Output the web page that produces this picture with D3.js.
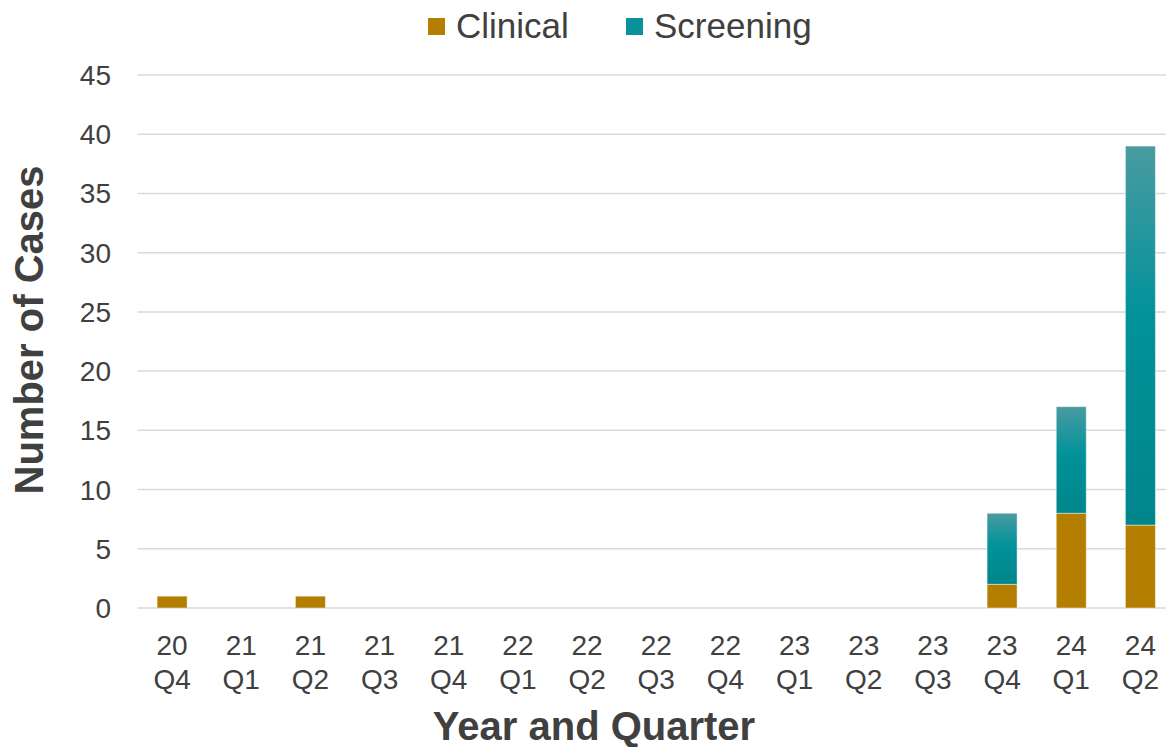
<!DOCTYPE html>
<meta charset="utf-8">
<style>
  body { margin: 0; background: #fff; }
  text { font-family: "Liberation Sans", Arial, sans-serif; fill: #404040; }
  .tick-label { font-size: 28px; }
  .axis-title { font-size: 40px; font-weight: bold; }
  .legend-text { font-size: 35px; }
</style>
<body>
<script src="https://cdn.jsdelivr.net/npm/d3@7"></script>
<script>

var quarters = ["20 Q4", "21 Q1", "21 Q2", "21 Q3", "21 Q4", "22 Q1", "22 Q2", "22 Q3",
                "22 Q4", "23 Q1", "23 Q2", "23 Q3", "23 Q4", "24 Q1", "24 Q2"];
var clinical = [1, 0, 1, 0, 0, 0, 0, 0, 0, 0, 0, 0, 2, 8, 7];
var screening = [0, 0, 0, 0, 0, 0, 0, 0, 0, 0, 0, 0, 6, 9, 32];
var yTicks = [0, 5, 10, 15, 20, 25, 30, 35, 40, 45];
var seriesNames = ["Clinical", "Screening"];

var width = 1166, height = 747;
var plotLeft = 137.5, plotRight = 1175, plotTop = 75, plotBottom = 608;

var svg = d3.select("body").append("svg")
  .attr("width", width)
  .attr("height", height);

// gradient for screening bars (lighter at the top)
var defs = svg.append("defs");
var grad = defs.append("linearGradient")
  .attr("id", "scrGrad")
  .attr("x1", 0).attr("y1", 0).attr("x2", 0).attr("y2", 1);
grad.append("stop").attr("offset", "0%").attr("stop-color", "#4a9ba1");
grad.append("stop").attr("offset", "45%").attr("stop-color", "#01929a");
grad.append("stop").attr("offset", "100%").attr("stop-color", "#00858b");

var x = d3.scaleBand().domain(quarters).range([plotLeft, plotRight]);
var y = d3.scaleLinear().domain([0, 45]).range([plotBottom, plotTop]);
var barW = 30;

// gridlines
svg.append("g").selectAll("line")
  .data(yTicks)
  .enter().append("line")
    .attr("x1", plotLeft).attr("x2", plotRight)
    .attr("y1", function(d) { return y(d); })
    .attr("y2", function(d) { return y(d); })
    .attr("stroke", "#d9d9d9")
    .attr("stroke-width", 1.5);

// y tick labels
svg.append("g").selectAll("text")
  .data(yTicks)
  .enter().append("text")
    .attr("class", "tick-label")
    .attr("x", 111)
    .attr("y", function(d) { return y(d) + 10; })
    .attr("text-anchor", "end")
    .text(function(d) { return d; });

// stacked bars
var stackData = quarters.map(function(q, i) {
  return { q: q, Clinical: clinical[i], Screening: screening[i] };
});
var stacked = d3.stack().keys(seriesNames)(stackData);
var colors = { Clinical: "#b47f00", Screening: "url(#scrGrad)" };

stacked.forEach(function(layer) {
  svg.append("g").selectAll("rect")
    .data(layer.filter(function(d) { return d[1] - d[0] > 0; }))
    .enter().append("rect")
      .attr("x", function(d) { return x(d.data.q) + x.bandwidth() / 2 - barW / 2; })
      .attr("y", function(d) { return y(d[1]); })
      .attr("width", barW)
      .attr("height", function(d) { return y(d[0]) - y(d[1]); })
      .attr("fill", colors[layer.key])
      .attr("stroke", "rgba(255,255,255,0.45)")
      .attr("stroke-width", 1);
});

// x tick labels (two lines)
var xl = svg.append("g").selectAll("text")
  .data(quarters)
  .enter().append("text")
    .attr("class", "tick-label")
    .attr("text-anchor", "middle");
xl.append("tspan")
  .attr("x", function(d) { return x(d) + x.bandwidth() / 2; })
  .attr("y", 655)
  .text(function(d) { return d.split(" ")[0]; });
xl.append("tspan")
  .attr("x", function(d) { return x(d) + x.bandwidth() / 2; })
  .attr("y", 689)
  .text(function(d) { return d.split(" ")[1]; });

// axis titles
svg.append("text")
  .attr("class", "axis-title")
  .attr("text-anchor", "middle")
  .attr("x", 594)
  .attr("y", 740)
  .text("Year and Quarter");

svg.append("text")
  .attr("class", "axis-title")
  .attr("text-anchor", "middle")
  .attr("transform", "translate(43,330) rotate(-90)")
  .text("Number of Cases");

// legend
var legendX = { Clinical: 428, Screening: 626 };
var legendFill = { Clinical: "#b47f00", Screening: "#0a9199" };
seriesNames.forEach(function(name) {
  svg.append("rect")
    .attr("x", legendX[name])
    .attr("y", 18)
    .attr("width", 17)
    .attr("height", 17)
    .attr("fill", legendFill[name]);
  svg.append("text")
    .attr("class", "legend-text")
    .attr("x", legendX[name] + 28)
    .attr("y", 38)
    .text(name);
});

</script>
</body>
